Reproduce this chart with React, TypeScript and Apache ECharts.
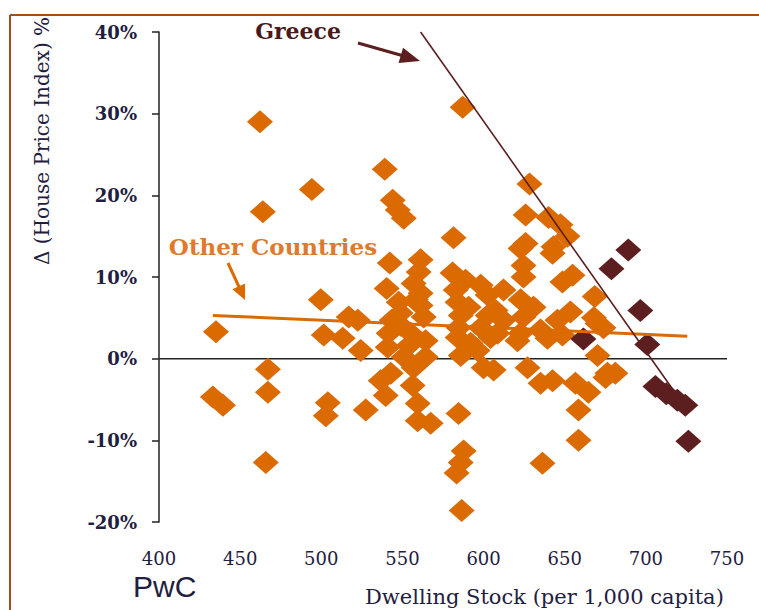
import React, { useEffect, useRef } from "react";
import * as echarts from "echarts";

// Dwelling stock (per 1,000 capita) vs change in house price index (%)
const otherCountries: [number, number][] = [
  [462.2, 29.0], [464.0, 18.0], [494.2, 20.7], [435.1, 3.3], [433.2, -4.7], [439.4, -5.7],
  [467.1, -1.3], [467.1, -4.1], [465.8, -12.7], [499.7, 7.2], [501.5, 2.9], [513.2, 2.5],
  [516.9, 5.1], [522.5, 4.7], [524.3, 1.0], [504.0, -5.4], [502.8, -7.0], [527.4, -6.3],
  [539.1, 23.2], [544.0, 19.4], [547.1, 18.2], [550.8, 17.2], [542.2, 11.7], [540.3, 8.6],
  [547.7, 6.9], [543.4, 4.7], [548.9, 5.6], [548.9, 4.1], [541.5, 3.1], [540.9, 1.4],
  [550.8, 0.2], [542.8, -1.8], [539.7, -4.5], [536.6, -2.7],
  [561.2, 12.1], [560.0, 10.6], [556.9, 9.2], [561.2, 8.0], [561.2, 6.5], [563.1, 5.1],
  [555.1, 3.1], [564.3, 2.2], [564.3, 0.2], [556.9, -1.1], [556.3, -3.3], [559.4, -5.5],
  [559.4, -7.6], [567.4, -7.9], [553.9, 1.6], [558.2, 7.2],
  [587.1, 30.8], [581.5, 14.8], [580.9, 10.5], [588.9, 9.6], [582.8, 8.4], [584.0, 6.9],
  [590.8, 6.3], [585.9, 5.3], [584.6, 3.8], [598.2, 3.8], [584.0, 2.6], [592.0, 1.9],
  [596.3, 1.0], [585.9, 0.4], [600.0, -1.1], [584.6, -6.7], [587.7, -11.3], [585.9, -12.7],
  [583.4, -14.0], [586.5, -18.6], [598.2, 9.0], [602.5, 7.8], [602.5, 5.3], [607.4, 5.9],
  [604.3, 2.6], [606.2, -1.4],
  [628.3, 21.4], [625.9, 17.6], [625.9, 14.1], [622.8, 13.5], [624.6, 11.4], [624.6, 10.0],
  [612.3, 8.4], [622.8, 7.2], [612.3, 4.7], [624.6, 5.1], [630.8, 6.3], [622.8, 3.1],
  [608.6, 3.1], [620.9, 2.2], [627.1, -1.1], [635.1, -3.0], [636.3, -12.8], [635.1, 3.5],
  [640.0, 17.3], [643.1, 13.7],
  [647.4, 16.4], [651.7, 15.0], [642.5, 12.9], [648.6, 9.4], [654.8, 10.2], [668.5, 7.6],
  [653.5, 5.7], [645.5, 4.7], [670.2, 4.3], [639.4, 2.5], [648.6, 2.9], [642.5, -2.7],
  [656.6, -3.0], [664.6, -4.1], [658.5, -6.3], [658.5, -10.0], [670.2, 0.4], [676.3, -1.8],
  [681.2, -1.8], [673.9, 3.8], [675.1, -2.3], [668.0, 5.0],
];

const greece: [number, number][] = [
  [661.5, 2.4], [678.8, 11.0], [689.2, 13.3], [696.6, 5.9], [700.9, 1.75],
  [705.9, -3.4], [712.6, -4.3], [719.4, -5.1], [724.3, -5.7], [726.2, -10.1],
];

const otherTrend: [number, number][] = [[433.2, 5.3], [725.5, 2.75]];
const greeceTrend: [number, number][] = [[561.2, 40.0], [724.9, -6.1]];
const zeroLine: [number, number][] = [[400, 0], [750, 0]];

const ORANGE = "#DB6A00";
const DARK = "#5C1E1E";
const NAVY = "#1F2040";
const SERIF = "'DejaVu Serif', serif";

export default function App() {
  const ref = useRef<HTMLDivElement>(null);
  useEffect(() => {
    if (!ref.current) return;
    const chart = echarts.init(ref.current, null, { renderer: "svg" });
    const gdx = 0.96, gdy = 0.28;
    const odx = 0.418, ody = 0.909;
    chart.setOption({
      animation: false,
      backgroundColor: "#ffffff",
      grid: { left: 159, top: 32, right: 32, bottom: 88, containLabel: false },
      xAxis: {
        type: "value",
        min: 400,
        max: 750,
        interval: 50,
        axisLine: { show: false, onZero: false },
        axisTick: { show: false },
        splitLine: { show: false },
        axisLabel: { margin: 27, fontFamily: SERIF, fontSize: 18, color: NAVY },
      },
      yAxis: {
        type: "value",
        min: -20,
        max: 40,
        interval: 10,
        axisLine: { show: true, onZero: false, lineStyle: { color: "#222", width: 1.5 } },
        axisTick: { show: true, length: 7, lineStyle: { color: "#222", width: 1.5 } },
        splitLine: { show: false },
        axisLabel: {
          formatter: "{value}%",
          margin: 22,
          fontFamily: SERIF,
          fontSize: 18,
          fontWeight: "bold",
          color: NAVY,
        },
      },
      series: [
        {
          type: "line",
          data: zeroLine,
          symbol: "none",
          silent: true,
          z: 1,
          lineStyle: { color: "#222", width: 1.5 },
        },
        {
          type: "scatter",
          data: otherCountries,
          symbol: "diamond",
          symbolSize: [26, 23],
          itemStyle: { color: ORANGE, opacity: 1 },
          silent: true,
          z: 2,
        },
        {
          type: "scatter",
          data: greece,
          symbol: "diamond",
          symbolSize: [26, 23],
          itemStyle: { color: DARK, opacity: 1 },
          silent: true,
          z: 3,
        },
        {
          type: "line",
          data: otherTrend,
          symbol: "none",
          silent: true,
          z: 4,
          lineStyle: { color: ORANGE, width: 3 },
        },
        {
          type: "line",
          data: greeceTrend,
          symbol: "none",
          silent: true,
          z: 4,
          lineStyle: { color: DARK, width: 1.6 },
        },
      ],
      graphic: [
        { type: "line", shape: { x1: 10, y1: 15, x2: 759, y2: 15 }, style: { stroke: "#A0501E", lineWidth: 2 } },
        { type: "line", shape: { x1: 10, y1: 15, x2: 10, y2: 610 }, style: { stroke: "#A0501E", lineWidth: 2 } },
        {
          type: "text",
          x: 42,
          y: 141,
          rotation: Math.PI / 2,
          style: {
            text: "Δ (House Price Index) %",
            fontFamily: SERIF,
            fontSize: 20,
            fill: NAVY,
            align: "center",
            verticalAlign: "middle",
          },
        },
        {
          type: "text",
          x: 298,
          y: 31,
          style: {
            text: "Greece",
            fontFamily: SERIF,
            fontSize: 22,
            fontWeight: "bold",
            fill: "#4A1A1A",
            align: "center",
            verticalAlign: "middle",
          },
        },
        {
          type: "line",
          shape: { x1: 358, y1: 43, x2: 402, y2: 55.5 },
          style: { stroke: DARK, lineWidth: 3 },
        },
        {
          type: "polygon",
          shape: {
            points: [
              [420, 61],
              [420 - 20 * gdx - 8 * gdy, 61 - 20 * gdy + 8 * gdx],
              [420 - 20 * gdx + 8 * gdy, 61 - 20 * gdy - 8 * gdx],
            ],
          },
          style: { fill: DARK },
        },
        {
          type: "text",
          x: 273,
          y: 246,
          style: {
            text: "Other Countries",
            fontFamily: SERIF,
            fontSize: 23,
            fontWeight: "bold",
            fill: "#E07A2A",
            align: "center",
            verticalAlign: "middle",
          },
        },
        {
          type: "line",
          shape: { x1: 228, y1: 263, x2: 240, y2: 289 },
          style: { stroke: ORANGE, lineWidth: 3 },
        },
        {
          type: "polygon",
          shape: {
            points: [
              [245, 300],
              [245 - 15 * odx - 7 * ody, 300 - 15 * ody + 7 * odx],
              [245 - 15 * odx + 7 * ody, 300 - 15 * ody - 7 * odx],
            ],
          },
          style: { fill: ORANGE },
        },
        {
          type: "text",
          x: 133,
          y: 586,
          style: {
            text: "PwC",
            fontFamily: "'Liberation Sans', Arial, sans-serif",
            fontSize: 30,
            fill: NAVY,
            align: "left",
            verticalAlign: "middle",
          },
        },
        {
          type: "text",
          x: 365,
          y: 597,
          style: {
            text: "Dwelling Stock (per 1,000 capita)",
            fontFamily: SERIF,
            fontSize: 21,
            fill: NAVY,
            align: "left",
            verticalAlign: "middle",
          },
        },
      ],
    });
    return () => chart.dispose();
  }, []);
  return <div ref={ref} style={{ width: 759, height: 610, position: "absolute", left: 0, top: 0 }} />;
}
